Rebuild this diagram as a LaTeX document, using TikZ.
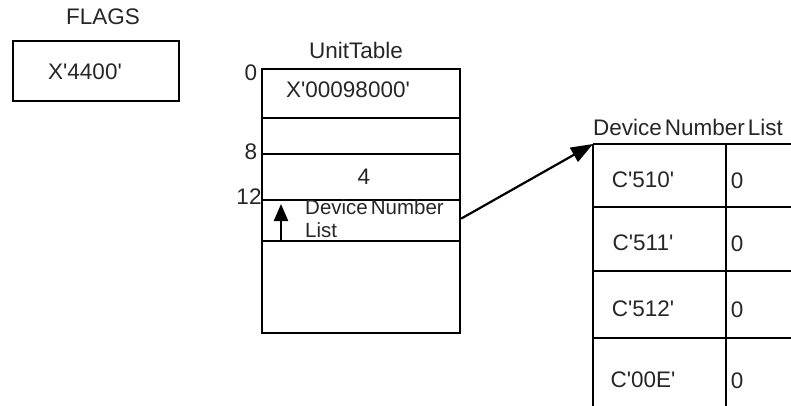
\documentclass[tikz,border=0pt]{standalone}
\usepackage{fontspec}
\newfontfamily\lsans{Liberation Sans}
\usetikzlibrary{arrows.meta}
\begin{document}
\begin{tikzpicture}[x=1pt,y=-1pt,
  every node/.style={font=\lsans\fontsize{22.5}{23}\selectfont, inner sep=0pt, text=black!85},
  small/.style={font=\lsans\fontsize{20.5}{22}\selectfont},
  cell/.style={draw=black, line width=2.2pt, minimum width=198pt, anchor=north west},
  rule/.style={line width=2.2pt},
  bigarrow/.style={line width=2.2pt, -{Triangle[length=22pt,width=16pt]}},
  uparrow/.style={line width=2.2pt, -{Triangle[length=17pt,width=14pt]}}]
\useasboundingbox (0,0) rectangle (791,406);
% FLAGS
\node (flagsT) at (103,17) {FLAGS};
\node[draw=black, line width=2.2pt, minimum width=166pt, minimum height=60pt, anchor=north west] (flags) at (12,40) {};
\node (flagsV) at (85,72) {X'4400'};
% UnitTable
\node (utT) at (356,50) {UnitTable};
\node[cell, minimum height=49pt] (u0) at (261,68) {};
\node[cell, minimum height=36pt] (u4) at (261,117) {};
\node[cell, minimum height=46pt] (u8) at (261,153) {};
\node[cell, minimum height=41pt] (u12) at (261,199) {};
\node[cell, minimum height=92pt] (u16) at (261,240) {};
\node at (348,90) {X'00098000'};
\node at (364,177) {4};
\node[small, align=left, anchor=west] (dnlTxt) at (305,219) {Device\hspace{3pt}Number\\[1pt]List};
\coordinate (upbase) at (281,240);
\coordinate (uptip) at (281,204);
\draw[uparrow] (upbase) -- (uptip);
\node (l0) at (251,73) {0};
\node (l8) at (251,152) {8};
\node (l12) at (249,197) {12};
% DeviceNumberList
\node (dT) at (688,127) {Device\hspace{3pt}Number\hspace{3pt}List};
\coordinate (dTL) at (593,144);
\coordinate (dTLb) at (593,406);
\coordinate (dDiv) at (726,144);
\coordinate (dDivb) at (726,406);
\foreach \y in {144,207,271,338} {\draw[rule] (593,\y) -- (791,\y);}
\draw[rule] (dTL) -- (dTLb);
\draw[rule] (dDiv) -- (dDivb);
\node (c1) at (643,180) {C'510'};
\node (z1) at (737,181) {0};
\node (c2) at (643,243) {C'511'};
\node (z2) at (737,244) {0};
\node (c3) at (643,309) {C'512'};
\node (z3) at (737,310) {0};
\node (c4) at (643,380) {C'00E'};
\node (z4) at (737,381) {0};
% pointer
\draw[bigarrow] ([yshift=2pt]u12.east) -- (dTL);
\end{tikzpicture}
\end{document}
